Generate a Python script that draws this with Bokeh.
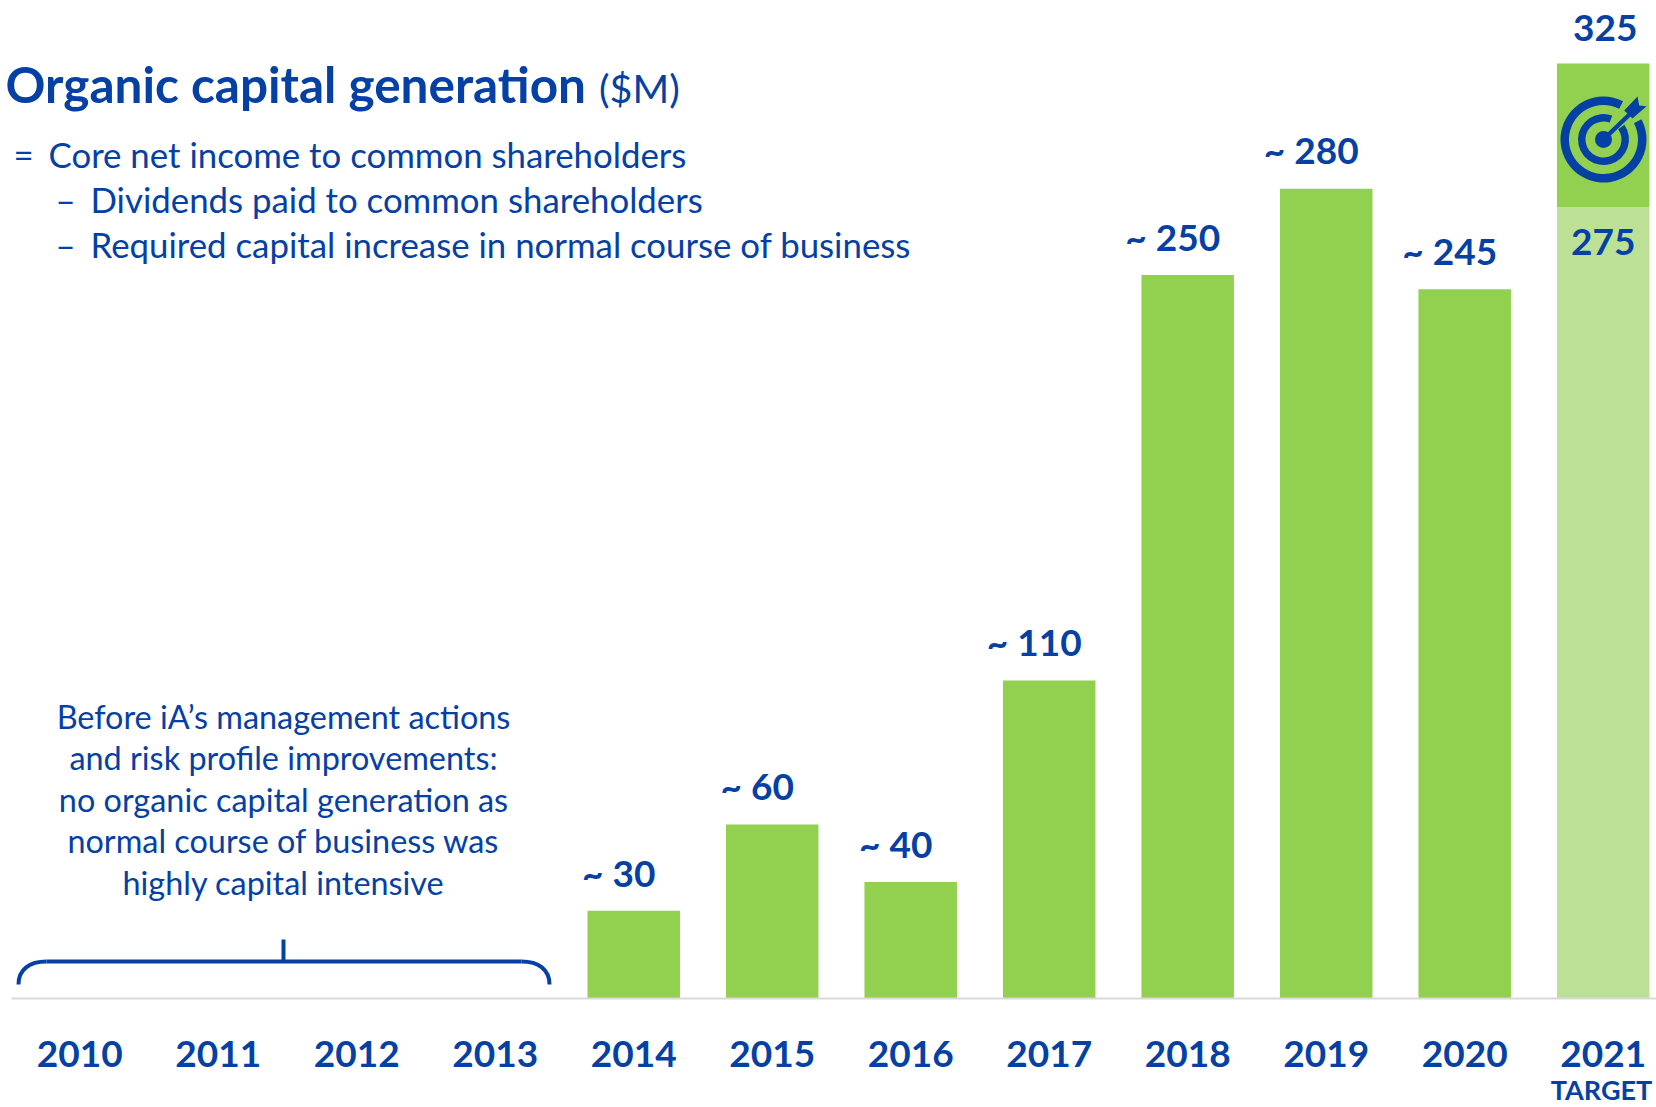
from bokeh.plotting import figure
from bokeh.embed import file_html
from bokeh.resources import INLINE
from bokeh.models import Range1d, FixedTicker
from bokeh.core.properties import value

# ---- data ----
years = [2010, 2011, 2012, 2013, 2014, 2015, 2016, 2017, 2018, 2019, 2020, 2021]
year_labels = [str(y) for y in years]
bar_years = [2014, 2015, 2016, 2017, 2018, 2019, 2020]
bar_values = [30.5, 60.5, 40.5, 110.5, 251.5, 281.5, 246.5]
bar_labels = ["~ 30", "~ 60", "~ 40", "~ 110", "~ 250", "~ 280", "~ 245"]
target_year = [2021]
target_base = [275]
target_top = [325]
title_main = "Organic capital generation"
title_unit = "($M)"
definition = ["Core net income to common shareholders",
              "Dividends paid to common shareholders",
              "Required capital increase in normal course of business"]
note = ["Before iA’s management actions",
        "and risk profile improvements:",
        "no organic capital generation as",
        "normal course of business was",
        "highly capital intensive"]

# ---- layout (page pixels) ----
BLUE = "#0540A5"; GREEN = "#92D050"; LIGHT = "#BCE096"
W, H = 1656, 1107
BASE = 998
STEP = 138.5
CX2010 = 79.2
PXY = 935 / 325
FONT = value("Lato")
ASC = 0.385   # rendered text sits this fraction of its size under the anchor

def X(px):
    return 2010 + (px - CX2010) / STEP
def Y(py):
    return (BASE - py) / PXY

# the frame fills the page, so that the sub-label under the axis is not clipped
p = figure(width=W, height=H, output_backend="svg", toolbar_location=None,
           x_range=Range1d(X(0), X(W)), y_range=Range1d(Y(H), Y(0)),
           min_border_left=0, min_border_right=0, min_border_top=0, min_border_bottom=0,
           outline_line_color=None, background_fill_color="white", border_fill_color="white")
p.grid.visible = False
p.yaxis.visible = False
ax = p.xaxis[0]
ax.fixed_location = 0
ax.ticker = FixedTicker(ticks=years)
ax.major_label_overrides = dict(zip(years, year_labels))
ax.bounds = (X(11), X(W))
ax.major_tick_line_color = None
ax.minor_tick_line_color = None
ax.axis_line_color = "#D9D9D9"
ax.axis_line_width = 2
ax.major_label_text_font = "Lato"
ax.major_label_text_font_style = "bold"
ax.major_label_text_font_size = "37px"
ax.major_label_text_color = BLUE
ax.major_label_standoff = 36

w = 92.5 / STEP
p.vbar(x=bar_years, top=bar_values, bottom=0, width=w, fill_color=GREEN, line_color=None)
p.vbar(x=target_year, top=target_base, bottom=0, width=w, fill_color=LIGHT, line_color=None)
p.vbar(x=target_year, top=target_top, bottom=target_base, width=w, fill_color=GREEN, line_color=None)

def txt(px, py, s, size, bold=False, align="left"):
    p.text(x=[X(px)], y=[Y(py - ASC * size)], text=[s], text_align=align,
           text_baseline="alphabetic", text_font=FONT,
           text_font_style="bold" if bold else "normal",
           text_font_size=f"{size}px", text_color=BLUE)

# bar labels
lab = 37
p.text(x=bar_years, y=bar_values, text=bar_labels, x_offset=-15, y_offset=-24.5 - ASC * lab,
       text_align="center", text_baseline="alphabetic", text_font=FONT,
       text_font_style="bold", text_font_size=f"{lab}px", text_color=BLUE)
p.text(x=target_year, y=target_top, text=[str(v) for v in target_top], x_offset=2, y_offset=-21 - ASC * lab,
       text_align="center", text_baseline="alphabetic", text_font=FONT,
       text_font_style="bold", text_font_size=f"{lab}px", text_color=BLUE)
p.text(x=target_year, y=target_base, text=[str(v) for v in target_base], y_offset=49 - ASC * lab,
       text_align="center", text_baseline="alphabetic", text_font=FONT,
       text_font_style="bold", text_font_size=f"{lab}px", text_color=BLUE)
txt(1601, 1099, "TARGET", 27, bold=True, align="center")

# title
txt(5, 103, title_main, 49.5, bold=True)
txt(598.5, 102, title_unit, 39.5)

# definition
txt(13, 167, "=", 34.8)
txt(48, 167, definition[0], 34.8)
for py, line in zip([212, 257], definition[1:]):
    txt(55, py, "–", 34.8)
    txt(90, py, line, 34.8)

# note
for i, line in enumerate(note):
    txt(283, 728 + 41.5 * i, line, 32.4, align="center")

# brace
p.line(x=[X(46), X(521)], y=[Y(961), Y(961)], line_color=BLUE, line_width=4)
p.line(x=[X(283), X(283)], y=[Y(939), Y(961)], line_color=BLUE, line_width=4)
p.bezier(x0=[X(18), X(549)], y0=[Y(984), Y(984)], x1=[X(46), X(521)], y1=[Y(961), Y(961)],
         cx0=[X(18), X(549)], cy0=[Y(969), Y(969)], cx1=[X(29), X(538)], cy1=[Y(961), Y(961)],
         line_color=BLUE, line_width=4)

# target icon
ICX, ICY = X(1603), Y(139)
p.annular_wedge(x=[ICX], y=[ICY], inner_radius=34.5, outer_radius=43, inner_radius_units="screen",
                outer_radius_units="screen", start_angle=63, end_angle=388, start_angle_units="deg",
                end_angle_units="deg", fill_color=BLUE, line_color=None)
p.annular_wedge(x=[ICX], y=[ICY], inner_radius=18, outer_radius=25.5, inner_radius_units="screen",
                outer_radius_units="screen", start_angle=70, end_angle=395, start_angle_units="deg",
                end_angle_units="deg", fill_color=BLUE, line_color=None)
p.scatter(x=[ICX], y=[ICY], size=17, marker="circle", fill_color=BLUE, line_color=None)
p.line(x=[ICX, X(1630)], y=[ICY, Y(113)], line_color=BLUE, line_width=4.5)
p.patch(x=[X(1623.7), X(1637), X(1638.7), X(1646), X(1632)], y=[Y(110), Y(96), Y(105), Y(105.7), Y(118)],
        fill_color=BLUE, line_color=None)

open("out.html", "w").write(file_html(p, INLINE))
